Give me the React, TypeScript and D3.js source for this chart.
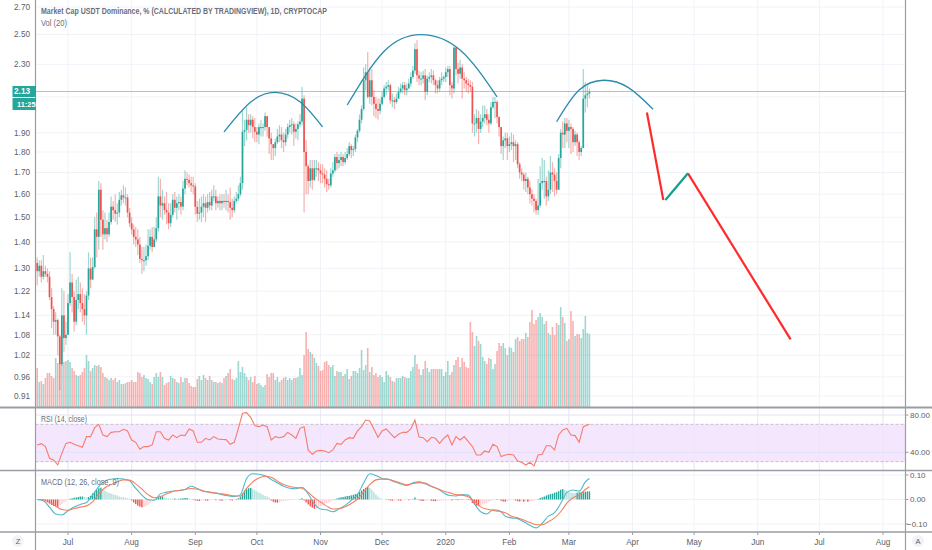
// USDT dominance daily chart with RSI and MACD panes, drawn with D3 scales and shapes
import * as d3 from 'd3';

const firstDay = new Date(2019, 5, 16);
const firstOpen = 1.32;

const closes = [
  1.29, 1.31, 1.27, 1.29, 1.28, 1.27, 1.2, 1.16, 1.12, 1.125,
  1.075, 0.995, 1.14, 1.07, 1.08, 1.18, 1.25, 1.2, 1.12, 1.19,
  1.21, 1.18, 1.16, 1.14, 1.205, 1.3, 1.26, 1.305, 1.45, 1.42,
  1.62, 1.49, 1.43, 1.455, 1.43, 1.48, 1.545, 1.53, 1.515, 1.52,
  1.575, 1.595, 1.585, 1.585, 1.52, 1.475, 1.45, 1.42, 1.41, 1.39,
  1.335, 1.33, 1.33, 1.345, 1.385, 1.42, 1.38, 1.41, 1.455, 1.59,
  1.55, 1.56, 1.53, 1.52, 1.475, 1.51, 1.575, 1.54, 1.56, 1.565,
  1.545, 1.625, 1.67, 1.665, 1.65, 1.64, 1.635, 1.545, 1.515, 1.52,
  1.545, 1.56, 1.54, 1.565, 1.55, 1.59, 1.59, 1.56, 1.57, 1.56,
  1.57, 1.565, 1.57, 1.565, 1.54, 1.53, 1.57, 1.58, 1.6, 1.65,
  1.905, 1.915, 1.97, 1.94, 1.97, 1.93, 1.905, 1.89, 1.93, 1.93,
  1.93, 1.99, 1.93, 1.87, 1.84, 1.82, 1.85, 1.88, 1.89, 1.86,
  1.85, 1.89, 1.93, 1.94, 1.945, 1.905, 1.92, 1.945, 1.96, 2.09,
  1.8, 1.73, 1.66, 1.72, 1.665, 1.72, 1.72, 1.71, 1.695, 1.69,
  1.67, 1.645, 1.64, 1.695, 1.71, 1.775, 1.745, 1.76, 1.775, 1.75,
  1.77, 1.79, 1.83, 1.81, 1.815, 1.875, 1.91, 1.97, 2.03, 2.2,
  2.25, 2.1, 2.2, 2.1, 2.06, 2.03, 2.02, 2.06, 2.1, 2.15,
  2.16, 2.17, 2.08, 2.08, 2.07, 2.09, 2.13, 2.15, 2.17, 2.14,
  2.15, 2.18, 2.22, 2.26, 2.4, 2.23, 2.21, 2.21, 2.23, 2.13,
  2.21, 2.22, 2.23, 2.2, 2.17, 2.15, 2.2, 2.21, 2.22, 2.25,
  2.27, 2.17, 2.15, 2.41, 2.27, 2.24, 2.28, 2.21, 2.2, 2.18,
  2.17, 2.16, 1.95, 1.95, 1.98, 1.92, 1.96, 1.98, 2.0, 1.97,
  1.95, 2.04, 2.07, 2.07, 1.985, 1.93, 1.83, 1.86, 1.87, 1.83,
  1.84, 1.85, 1.83, 1.84, 1.74, 1.7, 1.69, 1.66, 1.67, 1.63,
  1.6, 1.58, 1.57, 1.53, 1.55, 1.65, 1.66, 1.66, 1.59, 1.62,
  1.7, 1.69, 1.66, 1.62, 1.77, 1.9, 1.89, 1.95, 1.91, 1.93,
  1.92, 1.85, 1.89, 1.85, 1.8, 1.82, 2.09, 2.11, 2.12, 2.13,
];

const highs = [
  1.34, 1.33, 1.33, 1.35, 1.31, 1.3, 1.29, 1.23, 1.17, 1.15,
  1.13, 1.08, 1.23, 1.22, 1.12, 1.21, 1.36, 1.28, 1.22, 1.26,
  1.27, 1.25, 1.23, 1.21, 1.22, 1.36, 1.34, 1.34, 1.5, 1.52,
  1.66, 1.65, 1.53, 1.52, 1.49, 1.52, 1.59, 1.57, 1.6, 1.56,
  1.61, 1.62, 1.64, 1.63, 1.6, 1.54, 1.5, 1.47, 1.46, 1.45,
  1.42, 1.38, 1.38, 1.39, 1.45, 1.45, 1.46, 1.46, 1.5, 1.68,
  1.67, 1.62, 1.59, 1.61, 1.56, 1.56, 1.6, 1.61, 1.59, 1.6,
  1.59, 1.66, 1.71, 1.7, 1.69, 1.68, 1.68, 1.65, 1.57, 1.58,
  1.59, 1.6, 1.59, 1.6, 1.61, 1.62, 1.64, 1.62, 1.59, 1.6,
  1.6, 1.6, 1.62, 1.6, 1.63, 1.58, 1.59, 1.61, 1.64, 1.68,
  2.02, 1.97, 2.04, 2.0, 2.0, 1.99, 1.98, 1.93, 1.95, 1.97,
  1.95, 2.01, 1.99, 1.92, 1.9, 1.84, 1.87, 1.92, 1.94, 1.93,
  1.9, 1.92, 1.95, 1.97, 1.98, 1.96, 1.95, 1.96, 2.0, 2.16,
  2.11, 1.86, 1.74, 1.76, 1.76, 1.76, 1.76, 1.75, 1.74, 1.74,
  1.72, 1.71, 1.67, 1.72, 1.75, 1.79, 1.8, 1.79, 1.8, 1.79,
  1.8, 1.82, 1.85, 1.84, 1.83, 1.89, 1.92, 2.0, 2.05, 2.28,
  2.3, 2.38, 2.28, 2.27, 2.14, 2.1, 2.09, 2.09, 2.13, 2.17,
  2.19, 2.2, 2.18, 2.12, 2.1, 2.12, 2.16, 2.18, 2.19, 2.19,
  2.18, 2.21, 2.25, 2.29, 2.44, 2.46, 2.26, 2.25, 2.26, 2.27,
  2.23, 2.25, 2.27, 2.26, 2.21, 2.2, 2.22, 2.25, 2.23, 2.28,
  2.29, 2.29, 2.19, 2.42, 2.42, 2.31, 2.33, 2.3, 2.25, 2.22,
  2.21, 2.2, 2.19, 2.0, 2.03, 2.02, 2.0, 2.05, 2.05, 2.03,
  2.0, 2.07, 2.1, 2.1, 2.08, 1.99, 1.93, 1.88, 1.9, 1.9,
  1.88, 1.9, 1.89, 1.86, 1.85, 1.75, 1.72, 1.7, 1.7, 1.68,
  1.66, 1.62, 1.6, 1.58, 1.67, 1.73, 1.77, 1.76, 1.68, 1.71,
  1.78, 1.75, 1.72, 1.7, 1.79, 1.92, 1.96, 1.98, 1.98, 1.97,
  1.95, 1.93, 1.91, 1.9, 1.86, 1.83, 2.27, 2.19, 2.17, 2.15,
];

const lows = [
  1.24, 1.27, 1.25, 1.26, 1.27, 1.25, 1.19, 1.1, 1.08, 1.08,
  1.02, 0.925, 0.99, 1.03, 1.05, 1.08, 1.17, 1.15, 1.09, 1.11,
  1.16, 1.15, 1.12, 1.11, 1.08, 1.19, 1.23, 1.26, 1.3, 1.34,
  1.37, 1.42, 1.37, 1.41, 1.4, 1.42, 1.47, 1.49, 1.48, 1.47,
  1.5, 1.55, 1.56, 1.55, 1.5, 1.46, 1.43, 1.39, 1.38, 1.35,
  1.32, 1.28, 1.29, 1.31, 1.33, 1.37, 1.36, 1.38, 1.4, 1.44,
  1.5, 1.49, 1.51, 1.47, 1.45, 1.46, 1.5, 1.52, 1.49, 1.53,
  1.51, 1.53, 1.6, 1.64, 1.63, 1.61, 1.6, 1.51, 1.48, 1.49,
  1.48, 1.5, 1.48, 1.52, 1.53, 1.53, 1.57, 1.53, 1.54, 1.53,
  1.53, 1.54, 1.53, 1.52, 1.49, 1.5, 1.52, 1.56, 1.57, 1.59,
  1.62, 1.83, 1.86, 1.9, 1.9, 1.87, 1.85, 1.85, 1.84, 1.88,
  1.88, 1.91, 1.88, 1.79, 1.76, 1.76, 1.78, 1.84, 1.85, 1.82,
  1.8, 1.83, 1.87, 1.9, 1.89, 1.83, 1.87, 1.86, 1.93, 1.94,
  1.52, 1.6, 1.6, 1.63, 1.62, 1.66, 1.68, 1.66, 1.65, 1.65,
  1.63, 1.61, 1.62, 1.63, 1.68, 1.7, 1.71, 1.72, 1.73, 1.73,
  1.74, 1.76, 1.78, 1.77, 1.78, 1.8, 1.85, 1.9, 1.95, 2.02,
  2.14, 2.09, 2.06, 2.05, 1.99, 1.98, 1.97, 2.0, 2.05, 2.09,
  2.11, 2.14, 2.06, 2.04, 2.03, 2.06, 2.09, 2.12, 2.12, 2.11,
  2.11, 2.15, 2.16, 2.21, 2.24, 2.19, 2.17, 2.17, 2.18, 2.08,
  2.11, 2.19, 2.18, 2.17, 2.12, 2.12, 2.13, 2.17, 2.19, 2.19,
  2.22, 2.11, 2.09, 2.12, 2.23, 2.18, 2.21, 2.09, 2.15, 2.13,
  2.12, 2.13, 1.9, 1.88, 1.9, 1.84, 1.9, 1.93, 1.95, 1.94,
  1.9, 1.94, 2.03, 1.98, 1.95, 1.88, 1.79, 1.76, 1.82, 1.76,
  1.8, 1.81, 1.75, 1.76, 1.72, 1.67, 1.66, 1.62, 1.61, 1.6,
  1.56, 1.55, 1.52, 1.51, 1.51, 1.54, 1.62, 1.58, 1.55, 1.57,
  1.6, 1.61, 1.59, 1.6, 1.62, 1.72, 1.82, 1.82, 1.85, 1.82,
  1.79, 1.8, 1.83, 1.78, 1.76, 1.78, 1.82, 2.01, 2.04, 2.09,
];

// volume, in units of the Vol pane (100 is the top of the range)
const volumes = [
  37, 23, 24, 21, 27, 32, 32, 29, 27, 47,
  42, 43, 42, 43, 44, 45, 43, 37, 34, 30,
  29, 30, 33, 37, 50, 44, 34, 37, 40, 39,
  40, 38, 32, 28, 27, 25, 27, 25, 27, 23,
  25, 21, 21, 22, 23, 23, 25, 23, 23, 33,
  32, 28, 30, 27, 26, 23, 21, 28, 32, 28,
  33, 28, 20, 22, 23, 29, 27, 26, 23, 22,
  28, 23, 27, 27, 22, 19, 18, 18, 26, 29,
  25, 30, 27, 25, 29, 25, 23, 23, 22, 23,
  22, 27, 29, 32, 36, 26, 25, 27, 44, 33,
  38, 32, 28, 25, 28, 23, 29, 21, 22, 20,
  18, 20, 31, 28, 32, 32, 25, 28, 23, 25,
  27, 28, 25, 27, 25, 27, 27, 28, 37, 30,
  50, 73, 56, 53, 51, 47, 42, 39,
  34, 35, 43, 44, 40, 38, 40, 29, 34, 33,
  33, 29, 31, 36, 26, 29, 34, 34, 32, 37,
  55, 35, 40, 57, 33, 38, 30, 32, 28, 30,
  28, 23, 34, 30, 28, 24, 23, 27, 27, 27,
  29, 28, 27, 27, 34, 38, 50, 41, 36, 30,
  36, 44, 37, 33, 36, 36, 36, 36, 36, 36,
  29, 33, 44, 30, 33, 40, 45, 48, 38, 47,
  43, 38, 37, 83, 73, 59, 69, 64, 61, 48,
  44, 41, 47, 46, 36, 41, 54, 62, 59, 62,
  57, 50, 58, 57, 53, 66, 68, 64, 66, 66,
  72, 68, 83, 95, 81, 85, 88, 92, 88, 81,
  84, 72, 70, 78, 70, 82, 80, 98, 88, 82,
  64, 66, 94, 84, 69, 71, 71, 67, 76, 89,
  72, 71,
];

// RSI read every second day, plus the last day
const rsiValues = [
  47.9, 49.3, 46.1, 33.6, 31.8, 26.4, 38.9, 49.6, 50.7, 48.6,
  47.1, 45.4, 56.8, 56.8, 66.4, 70, 58.6, 56.8, 61.4, 62.1,
  62.1, 64.6, 62.9, 53.2, 50.7, 43.2, 46.1, 46.1, 47.9, 62.1,
  62.1, 55, 53.2, 58.6, 55.7, 58.6, 57.9, 65, 62.9, 50.7,
  50.7, 55, 53.2, 56.8, 54.3, 53.9, 53.6, 48.6, 50.7, 65.7,
  81.8, 82.5, 77.5, 68.6, 67.5, 69.3, 67.5, 53.2, 56.8, 55.7,
  56.8, 61.4, 58.6, 55, 65.7, 67.5, 42.5, 37.9, 41.4, 42.1,
  41.4, 39.6, 42.5, 49.6, 48.6, 53.2, 55.7, 55, 62.9, 67.5,
  74.6, 73.6, 65, 56.1, 62.9, 65, 60.4, 55.7, 59.3, 61.4,
  61.4, 65, 74.6, 56.4, 55.7, 51.4, 56.1, 55, 49.6, 55,
  58.6, 47.9, 56.8, 53.2, 56.8, 51.4, 46.1, 37.1, 37.1, 41.4,
  40, 48.6, 46.1, 35.4, 37.1, 37.9, 37.1, 30.7, 29.3, 26.4,
  29.3, 25.4, 37.1, 37.9, 47.1, 47.1, 42.5, 58.6, 63.9, 65.7,
  58.6, 57.9, 50.7, 67.5, 69.3, 70,
];

// MACD and signal read every third day, plus the last day
const macdValues = [
  0, -0.005, -0.031, -0.059, -0.063, -0.046, -0.031, -0.02, -0.012, 0.018,
  0.054, 0.075, 0.083, 0.086, 0.084, 0.076, 0.045, 0.018, -0.001, -0.003,
  0.023, 0.03, 0.034, 0.037, 0.041, 0.054, 0.045, 0.034, 0.029, 0.026,
  0.02, 0.015, 0.012, 0.02, 0.086, 0.105, 0.103, 0.097, 0.082, 0.068,
  0.054, 0.046, 0.044, 0.05, 0.023, -0.018, -0.039, -0.042, -0.05, -0.038,
  -0.024, -0.003, 0.02, 0.067, 0.105, 0.098, 0.086, 0.083, 0.072, 0.064,
  0.057, 0.068, 0.072, 0.064, 0.053, 0.044, 0.027, 0.016, 0.014, 0.02,
  0.018, -0.018, -0.05, -0.059, -0.042, -0.045, -0.068, -0.075, -0.078, -0.091,
  -0.105, -0.116, -0.097, -0.068, -0.054, -0.016, 0.029, 0.039, 0.034, 0.072,
  0.086,
];

const signalValues = [
  0, -0.001, -0.011, -0.027, -0.041, -0.044, -0.037, -0.031, -0.026, -0.01,
  0.023, 0.048, 0.061, 0.072, 0.08, 0.079, 0.064, 0.042, 0.02, 0.007,
  0.012, 0.023, 0.033, 0.037, 0.041, 0.045, 0.042, 0.035, 0.03, 0.026,
  0.023, 0.019, 0.015, 0.014, 0.045, 0.072, 0.088, 0.095, 0.091, 0.075,
  0.061, 0.053, 0.049, 0.046, 0.029, 0.007, -0.01, -0.027, -0.039, -0.038,
  -0.03, -0.016, 0.001, 0.031, 0.061, 0.08, 0.083, 0.082, 0.075, 0.067,
  0.06, 0.065, 0.069, 0.067, 0.054, 0.044, 0.034, 0.027, 0.02, 0.018,
  0.011, -0.008, -0.03, -0.039, -0.045, -0.048, -0.054, -0.068, -0.075, -0.084,
  -0.094, -0.102, -0.103, -0.091, -0.075, -0.05, -0.015, 0.007, 0.019, 0.041,
  0.052,
];

const histValues = [
  0, 0, -0.001, -0.003, -0.007, -0.012, -0.017, -0.022, -0.026, -0.028,
  -0.03, -0.024, -0.018, -0.012, -0.007, -0.003, 0.003, 0.005, 0.007, 0.008,
  0.01, 0.012, 0.012, 0.01, 0.008, 0.01, 0.015, 0.025, 0.032, 0.04,
  0.046, 0.048, 0.042, 0.036, 0.03, 0.027, 0.024, 0.021, 0.019, 0.016,
  0.012, 0.01, 0.009, 0.007, 0.005, 0.003, -0.004, -0.012, -0.019, -0.025,
  -0.029, -0.032, -0.03, -0.027, -0.022, -0.015, -0.008, -0.003, 0.004, 0.008,
  0.012, 0.013, 0.01, 0.007, 0.005, 0.004, 0.003, 0.004, 0.003, 0.003,
  0.004, 0.005, 0.006, 0.006, 0.004, 0.002, -0.002, -0.004, -0.005, -0.006,
  -0.004, -0.003, -0.004, -0.005, -0.003, -0.002, -0.002, -0.003, -0.002, -0.004,
  -0.005, -0.004, -0.003, -0.002, -0.003, -0.004, -0.003, 0.002, 0.005, 0.012,
  0.025, 0.036, 0.042, 0.046, 0.047, 0.043, 0.038, 0.033, 0.028, 0.024,
  0.019, 0.015, 0.012, 0.007, -0.004, -0.009, -0.012, -0.013, -0.011, -0.008,
  -0.006, -0.005, -0.004, -0.003, -0.003, -0.002, -0.002, -0.001, 0.002, 0.005,
  -0.004, -0.012, -0.02, -0.028, -0.033, -0.038, -0.036, -0.031, -0.026, -0.022,
  -0.018, -0.014, -0.011, -0.008, -0.005, 0.002, 0.004, 0.007, 0.009, 0.01,
  0.012, 0.014, 0.015, 0.017, 0.019, 0.022, 0.025, 0.03, 0.037, 0.043,
  0.048, 0.052, 0.047, 0.04, 0.03, 0.02, 0.012, 0.006, 0.001, 0,
  -0.001, -0.002, -0.004, -0.005, -0.004, -0.003, -0.004, -0.005, -0.003, -0.002,
  -0.002, -0.003, -0.002, 0.002, 0.008, 0.004, -0.003, -0.005, -0.006, -0.006,
  -0.004, -0.003, -0.005, -0.006, -0.007, -0.006, -0.005, -0.004, -0.004, -0.003,
  -0.003, -0.002, -0.004, 0.001, -0.002, -0.003, 0.001, 0.002, 0.001, 0.001,
  0.002, -0.003, -0.014, -0.02, -0.025, -0.027, -0.024, -0.02, -0.016, -0.012,
  -0.009, -0.006, -0.003, -0.002, 0.002, 0.001, -0.005, -0.008, -0.009, -0.007,
  -0.004, -0.003, -0.003, -0.004, -0.007, -0.008, -0.008, -0.009, -0.008, -0.009,
  -0.008, -0.006, -0.004, -0.002, 0.002, 0.006, 0.009, 0.012, 0.016, 0.02,
  0.022, 0.024, 0.028, 0.03, 0.034, 0.04, 0.042, 0.04, 0.036, 0.03,
  0.028, 0.027, 0.026, 0.028, 0.029, 0.03, 0.03, 0.032, 0.033, 0.033,
];

const priceTicks = [2.7, 2.5, 2.3, 2.1, 1.9, 1.8, 1.7, 1.6, 1.5, 1.4, 1.3, 1.22, 1.14, 1.08, 1.02, 0.96, 0.91];
const rsiTicks = [80, 40];
const macdTicks = [0.1, 0, -0.1];
const monthTicks = [
  new Date(2019, 6, 1), new Date(2019, 7, 1), new Date(2019, 8, 1), new Date(2019, 9, 1),
  new Date(2019, 10, 1), new Date(2019, 11, 1), new Date(2020, 0, 1), new Date(2020, 1, 1),
  new Date(2020, 2, 1), new Date(2020, 3, 1), new Date(2020, 4, 1), new Date(2020, 5, 1),
  new Date(2020, 6, 1), new Date(2020, 7, 1),
];
const monthLabels = ['Jul', 'Aug', 'Sep', 'Oct', 'Nov', 'Dec', '2020', 'Feb', 'Mar', 'Apr', 'May', 'Jun', 'Jul', 'Aug'];

// hand drawn shapes on the chart: [date, price]
type Pt = [Date, number];
const domes: Pt[][] = [
  [[new Date(2019, 8, 15), 1.904], [new Date(2019, 8, 28), 2.07], [new Date(2019, 9, 10), 2.127], [new Date(2019, 9, 22), 2.072], [new Date(2019, 10, 2), 1.931]],
  [[new Date(2019, 10, 14), 2.053], [new Date(2019, 11, 2), 2.386], [new Date(2019, 11, 20), 2.5], [new Date(2020, 0, 8), 2.394], [new Date(2020, 0, 26), 2.1]],
  [[new Date(2020, 1, 24), 1.959], [new Date(2020, 2, 6), 2.141], [new Date(2020, 2, 18), 2.2], [new Date(2020, 2, 30), 2.155], [new Date(2020, 3, 11), 2.029]],
];
const forecastDown: Pt[][] = [
  [[new Date(2020, 3, 8), 2.01], [new Date(2020, 3, 16), 1.574]],
  [[new Date(2020, 3, 28), 1.696], [new Date(2020, 5, 17), 1.066]],
];
const forecastUp: Pt[] = [[new Date(2020, 3, 17), 1.574], [new Date(2020, 3, 28), 1.696]];

const lastPrice = 2.13;

const WIDTH = 932;
const HEIGHT = 550;
const LEFT = 35.5;
const RIGHT = 905.5;
const MAIN_BOTTOM = 407.5;
const RSI_BOTTOM = 470.5;
const MACD_BOTTOM = 532;

const UP = '#26a69a';
const DOWN = '#ef5350';
const GRID = '#eff3f8';
const AXIS = '#9a9da3';
const TEXT = '#5d606b';
const LEGEND = '#6a6d78';
const FONT = '"Liberation Sans", Arial, sans-serif';

const x = d3.scaleTime().domain([new Date(2019, 6, 1), new Date(2020, 7, 1)]).range([68, 883]);
const yPrice = d3.scaleLog().domain([2.7, 0.91]).range([7, 396]);
const yVol = d3.scaleLinear().domain([0, 100]).range([405, 305]);
const yRsi = d3.scaleLinear().domain([80, 40]).range([415, 452.3]);
const yMacd = d3.scaleLinear().domain([0.1, -0.1]).range([475, 524]);

const dayOf = (i: number) => d3.timeDay.offset(firstDay, i);
const xDay = (i: number) => x(dayOf(i));

const rsiDays = [...d3.range(0, 270, 2), 269];
const macdDays = [...d3.range(0, 270, 3), 269];

const candles = closes.map((close, i) => {
  const open = i === 0 ? firstOpen : closes[i - 1];
  return { i, open, close, high: highs[i], low: lows[i], up: close >= open };
});

const histColor = (v: number, prev: number) => {
  if (v >= 0) return v >= prev ? UP : '#b2dfdb';
  return v < prev ? DOWN : '#ffcdd2';
};

const sketchLine = d3.line<Pt>().x(d => x(d[0])).y(d => yPrice(d[1]));
const domeLine = d3.line<Pt>().x(d => x(d[0])).y(d => yPrice(d[1])).curve(d3.curveNatural);
const rsiLine = d3.line<number>().x((_, i) => xDay(rsiDays[i])).y(d => yRsi(d));
const macdLine = d3.line<number>().x((_, i) => xDay(macdDays[i])).y(d => yMacd(d)).curve(d3.curveMonotoneX);

export default function App() {
  return (
    <svg
      width={WIDTH}
      height={HEIGHT}
      style={{ position: 'absolute', left: 0, top: 0, background: '#fff' }}
      fontFamily={FONT}
    >
      {/* grid */}
      {monthTicks.map((d, i) => (
        <line key={i} x1={x(d)} x2={x(d)} y1={0} y2={MACD_BOTTOM} stroke={GRID} />
      ))}
      {priceTicks.map(t => (
        <line key={t} x1={LEFT} x2={RIGHT} y1={yPrice(t)} y2={yPrice(t)} stroke={GRID} />
      ))}

      {/* volume */}
      {candles.map(c => (
        <rect
          key={c.i}
          x={xDay(c.i) - 0.8}
          width={1.6}
          y={yVol(volumes[c.i])}
          height={MAIN_BOTTOM - yVol(volumes[c.i])}
          fill={c.up ? UP : DOWN}
          opacity={0.45}
        />
      ))}

      {/* candles */}
      {candles.map(c => {
        const color = c.up ? UP : DOWN;
        const top = yPrice(Math.max(c.open, c.close));
        const bottom = yPrice(Math.min(c.open, c.close));
        return (
          <g key={c.i}>
            <line x1={xDay(c.i)} x2={xDay(c.i)} y1={yPrice(c.high)} y2={yPrice(c.low)} stroke={color} strokeOpacity={0.45} strokeWidth={1.2} />
            <rect x={xDay(c.i) - 0.85} width={1.7} y={top} height={Math.max(bottom - top, 1)} fill={color} />
          </g>
        );
      })}

      {/* last price line */}
      <line x1={LEFT} x2={RIGHT} y1={91.5} y2={91.5} stroke={UP} strokeDasharray="1 1" />

      {/* hand drawn shapes */}
      {domes.map((d, i) => (
        <path key={i} d={domeLine(d)!} fill="none" stroke="#2a8cab" strokeWidth={1.3} />
      ))}
      {forecastDown.map((d, i) => (
        <path key={i} d={sketchLine(d)!} fill="none" stroke="#ff2b2b" strokeWidth={2.2} />
      ))}
      <path d={sketchLine(forecastUp)!} fill="none" stroke="#119f8c" strokeWidth={2.2} />

      {/* rsi pane */}
      <rect x={LEFT} width={RIGHT - LEFT} y={yRsi(70)} height={yRsi(30) - yRsi(70)} fill="#f4e6fd" />
      {monthTicks.map((d, i) => (
        <line key={i} x1={x(d)} x2={x(d)} y1={MAIN_BOTTOM} y2={RSI_BOTTOM} stroke="#e8e6f8" strokeOpacity={0.8} />
      ))}
      {rsiTicks.map(t => (
        <line key={t} x1={LEFT} x2={RIGHT} y1={yRsi(t)} y2={yRsi(t)} stroke="#e4e2f4" />
      ))}
      {[70, 30].map(t => (
        <line key={t} x1={LEFT} x2={RIGHT} y1={yRsi(t)} y2={yRsi(t)} stroke="#c9bccf" strokeDasharray="3 2" />
      ))}
      <path d={rsiLine(rsiValues)!} fill="none" stroke="#f77c6a" strokeWidth={1.1} />

      {/* macd pane */}
      {macdTicks.map(t => (
        <line key={t} x1={LEFT} x2={RIGHT} y1={yMacd(t)} y2={yMacd(t)} stroke={GRID} />
      ))}
      {histValues.map((v, i) => {
        const y0 = yMacd(0);
        const y1 = yMacd(v);
        return (
          <rect
            key={i}
            x={xDay(i) - 0.7}
            width={1.4}
            y={Math.min(y0, y1)}
            height={Math.abs(y1 - y0)}
            fill={histColor(v, i === 0 ? 0 : histValues[i - 1])}
          />
        );
      })}
      <path d={macdLine(macdValues)!} fill="none" stroke="#4fb9c9" strokeWidth={1.1} />
      <path d={macdLine(signalValues)!} fill="none" stroke="#f77f5e" strokeWidth={1.1} />

      {/* pane frames */}
      <line x1={LEFT} x2={LEFT} y1={0} y2={HEIGHT} stroke={AXIS} strokeWidth={1.2} />
      <line x1={RIGHT} x2={RIGHT} y1={0} y2={HEIGHT} stroke={AXIS} strokeWidth={1.2} />
      <line x1={0} x2={WIDTH} y1={MAIN_BOTTOM} y2={MAIN_BOTTOM} stroke={AXIS} strokeWidth={2} />
      <line x1={0} x2={WIDTH} y1={RSI_BOTTOM} y2={RSI_BOTTOM} stroke={AXIS} strokeWidth={1.4} />
      <line x1={0} x2={WIDTH} y1={MACD_BOTTOM} y2={MACD_BOTTOM} stroke={AXIS} strokeWidth={1.4} />

      {/* price axis, the 2.10 label sits under the price badge */}
      {priceTicks.filter(t => t !== 2.1).map(t => (
        <text key={t} x={30} y={yPrice(t)} dy="0.35em" textAnchor="end" fontSize={8.2} fill={TEXT}>
          {t.toFixed(2)}
        </text>
      ))}
      <rect x={12.5} y={86} width={23.5} height={11} fill={UP} />
      <text x={30} y={91.5} dy="0.35em" textAnchor="end" fontSize={8.2} fontWeight="bold" fill="#fff">
        {lastPrice.toFixed(2)}
      </text>
      <rect x={12.5} y={98} width={23.5} height={12} fill={UP} />
      <text x={17} y={104} dy="0.35em" fontSize={7.4} fontWeight="bold" fill="#fff">
        11:25:
      </text>

      {/* rsi and macd axes */}
      {rsiTicks.map(t => (
        <g key={t}>
          <line x1={RIGHT} x2={RIGHT + 3} y1={yRsi(t)} y2={yRsi(t)} stroke={AXIS} />
          <text x={910} y={yRsi(t)} dy="0.35em" fontSize={8} fill={TEXT}>{t.toFixed(2)}</text>
        </g>
      ))}
      {macdTicks.map(t => (
        <g key={t}>
          <line x1={RIGHT} x2={RIGHT + 3} y1={yMacd(t)} y2={yMacd(t)} stroke={AXIS} />
          <text x={t < 0 ? 907 : 910} y={yMacd(t)} dy="0.35em" fontSize={8} fill={TEXT}>
            {t < 0 ? `\u2212${Math.abs(t).toFixed(2)}` : t.toFixed(2)}
          </text>
        </g>
      ))}

      {/* time axis */}
      {monthTicks.map((d, i) => (
        <g key={i}>
          <line x1={x(d)} x2={x(d)} y1={MACD_BOTTOM} y2={MACD_BOTTOM + 3} stroke={AXIS} />
          <text x={x(d)} y={542} dy="0.35em" textAnchor="middle" fontSize={8.2} fill={TEXT}>
            {monthLabels[i]}
          </text>
        </g>
      ))}

      {/* legends, squeezed to the narrow face of the original */}
      <text x={41} y={11} dy="0.35em" fontSize={9} fontWeight="bold" fill={LEGEND} textLength={286} lengthAdjust="spacingAndGlyphs">
        Market Cap USDT Dominance, % (CALCULATED BY TRADINGVIEW), 1D, CRYPTOCAP
      </text>
      <text x={41} y={23} dy="0.35em" fontSize={9} fill={LEGEND} textLength={26} lengthAdjust="spacingAndGlyphs">Vol (20)</text>
      <text x={41} y={419} dy="0.35em" fontSize={9} fill={LEGEND} textLength={46} lengthAdjust="spacingAndGlyphs">RSI (14, close)</text>
      <text x={41} y={482} dy="0.35em" fontSize={9} fill={LEGEND} textLength={78} lengthAdjust="spacingAndGlyphs">MACD (12, 26, close, 9)</text>

      {/* corner buttons */}
      <circle cx={18} cy={541} r={6} fill="#f0f3fa" />
      <text x={18} y={541} dy="0.35em" textAnchor="middle" fontSize={7.5} fill={TEXT}>Z</text>
      <circle cx={918} cy={541} r={6} fill="#f0f3fa" />
      <text x={918} y={541} dy="0.35em" textAnchor="middle" fontSize={7.5} fill={TEXT}>A</text>
    </svg>
  );
}
